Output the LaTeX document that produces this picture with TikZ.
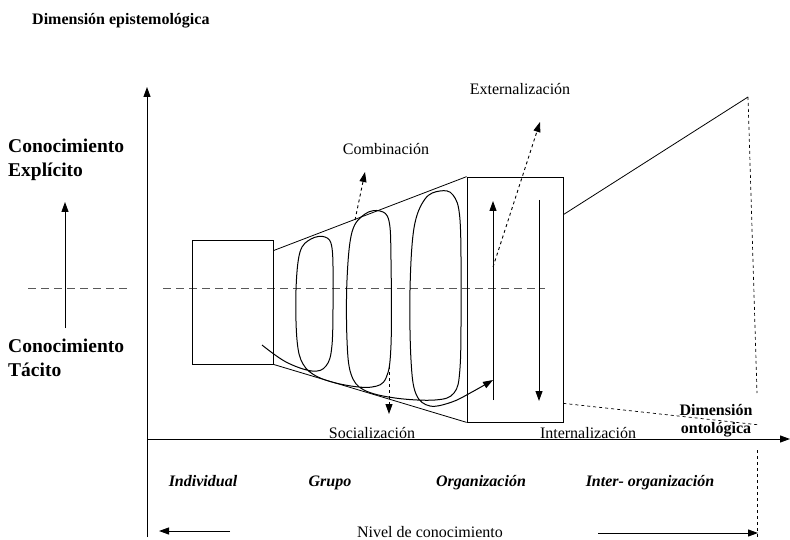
\documentclass[tikz,border=0pt]{standalone}
\usepackage{fontspec}
\setmainfont{Liberation Serif}
\usetikzlibrary{arrows.meta, positioning, calc}

\begin{document}
\begin{tikzpicture}[
    x=1pt, y=-1pt,
    box/.style={rectangle, draw=black, line width=0.75pt, inner sep=0pt},
    arrow/.style={-{Triangle[length=10pt, width=7pt]}, line width=1pt},
    dasharrow/.style={-{Triangle[length=10pt, width=7pt]}, line width=0.9pt, dashed},
    guide/.style={gray!70!black, line width=0.7pt, dash pattern=on 8pt off 5pt},
    thin_line/.style={line width=0.8pt},
    lbl/.style={font=\fontsize{16}{18}\selectfont, inner sep=1pt, anchor=base},
    bold_lbl/.style={font=\fontsize{16}{18}\selectfont\bfseries, align=center, inner sep=1pt},
    level/.style={font=\fontsize{16}{18}\selectfont\bfseries\itshape, inner sep=1pt, anchor=base},
    knowledge/.style={font=\fontsize{19.5}{24}\selectfont\bfseries, align=left, anchor=west, inner sep=0pt}
]
    \useasboundingbox (0,0) rectangle (790,540);

    % Axes
    \coordinate (yaxis_bot) at (147,537);
    \coordinate (yaxis_top) at (147,87);
    \coordinate (origin) at (147,439);
    \coordinate (xaxis_end) at (790,439);
    \draw[arrow] (yaxis_bot) -- (yaxis_top);
    \draw[arrow] (origin) -- (xaxis_end);

    % Titles and left labels
    \node[bold_lbl, anchor=west] (epis) at (31,21) {Dimensión epistemológica};
    \node[knowledge] (explicit) at (8,160) {Conocimiento\\Explícito};
    \node[knowledge] (tacit) at (8,358) {Conocimiento\\Tácito};
    \coordinate (k_low) at (65,328);
    \coordinate (k_high) at (65,202);
    \draw[arrow] (k_low) -- (k_high);

    % Dashed middle guide
    \coordinate (g1a) at (28,288);
    \coordinate (g1b) at (128,288);
    \coordinate (g2a) at (163,288);
    \coordinate (g2b) at (545,288);
    \draw[guide] (g1a) -- (g1b);
    \draw[guide] (g2a) -- (g2b);

    % Boxes and cone
    \node[box, minimum width=81pt, minimum height=124pt] (indiv) at (232.5,302) {};
    \node[box, minimum width=96pt, minimum height=245pt] (org) at (515,299.5) {};
    \draw[thin_line] ($(indiv.north east)+(0,11)$) -- (org.north west);
    \draw[thin_line] (indiv.south east) -- (org.south west);

    % Inter-organization projection
    \coordinate (apex) at (748,97);
    \coordinate (apex_low) at (757,393);
    \coordinate (onto_end) at (760,425);
    \draw[thin_line] ($(org.north east)+(0,38)$) -- (apex);
    \draw[line width=0.7pt, dashed] (apex) -- (apex_low);
    \draw[line width=0.7pt, dashed] ($(org.south east)+(0,-19)$) -- (onto_end);

    % Arrows inside organization box
    \coordinate (up_a) at (493,400);
    \coordinate (up_b) at (493,201);
    \coordinate (dn_a) at (539,200);
    \coordinate (dn_b) at (539,401);
    \draw[arrow] (up_a) -- (up_b);
    \draw[arrow] (dn_a) -- (dn_b);

    % Spiral
    \draw[line width=1pt, -{Triangle[length=10pt, width=7pt]}] plot[smooth, tension=0.6] coordinates {
        (262,345) (286,362) (312,371) (326,366) (332,345) (333,290) (332,248) (325,237)
        (311,239) (300,252) (296,290) (297,340) (303,364) (318,377) (345,385) (372,387)
        (386,378) (391,345) (391,260) (389,221) (380,211) (365,214) (352,232) (347,280)
        (347,340) (351,374) (364,390) (395,398) (435,400) (454,393) (460,368) (461,300)
        (460,220) (453,195) (440,191) (425,199) (414,228) (410,290) (411,360) (416,394)
        (430,406) (452,402) (472,392) (493,380)};

    % Conversion arrows
    \coordinate (comb_a) at (355,220);
    \coordinate (comb_b) at (365,172);
    \coordinate (soc_a) at (389,366);
    \coordinate (soc_b) at (389,414);
    \coordinate (ext_a) at (493,267);
    \coordinate (ext_b) at (540,122);
    \draw[dasharrow] (comb_a) -- (comb_b);
    \draw[dasharrow] (soc_a) -- (soc_b);
    \draw[dasharrow] (ext_a) -- (ext_b);

    \node[lbl] (comb) at (386,155) {Combinación};
    \node[lbl] (ext) at (520,95) {Externalización};
    \node[lbl] (soc) at (372,438) {Socialización};
    \node[lbl] (intern) at (588,438) {Internalización};
    \node[bold_lbl] (onto) at (716,421) {Dimensión\\ontológica};

    % Levels
    \node[level] (lv_ind) at (203,486) {Individual};
    \node[level] (lv_grp) at (330,486) {Grupo};
    \node[level] (lv_org) at (481,486) {Organización};
    \node[level] (lv_int) at (650,486) {Inter- organización};

    % Level of knowledge
    \node[lbl] (nivel) at (430,537) {Nivel de conocimiento};
    \coordinate (nl_a) at (230,531);
    \coordinate (nl_b) at (159,531);
    \coordinate (nr_a) at (598,533);
    \coordinate (nr_b) at (758,533);
    \draw[arrow] (nl_a) -- (nl_b);
    \draw[arrow] (nr_a) -- (nr_b);
    \coordinate (bd_a) at (757,450);
    \coordinate (bd_b) at (757,540);
    \draw[line width=0.7pt, dashed] (bd_a) -- (bd_b);

\end{tikzpicture}
\end{document}
